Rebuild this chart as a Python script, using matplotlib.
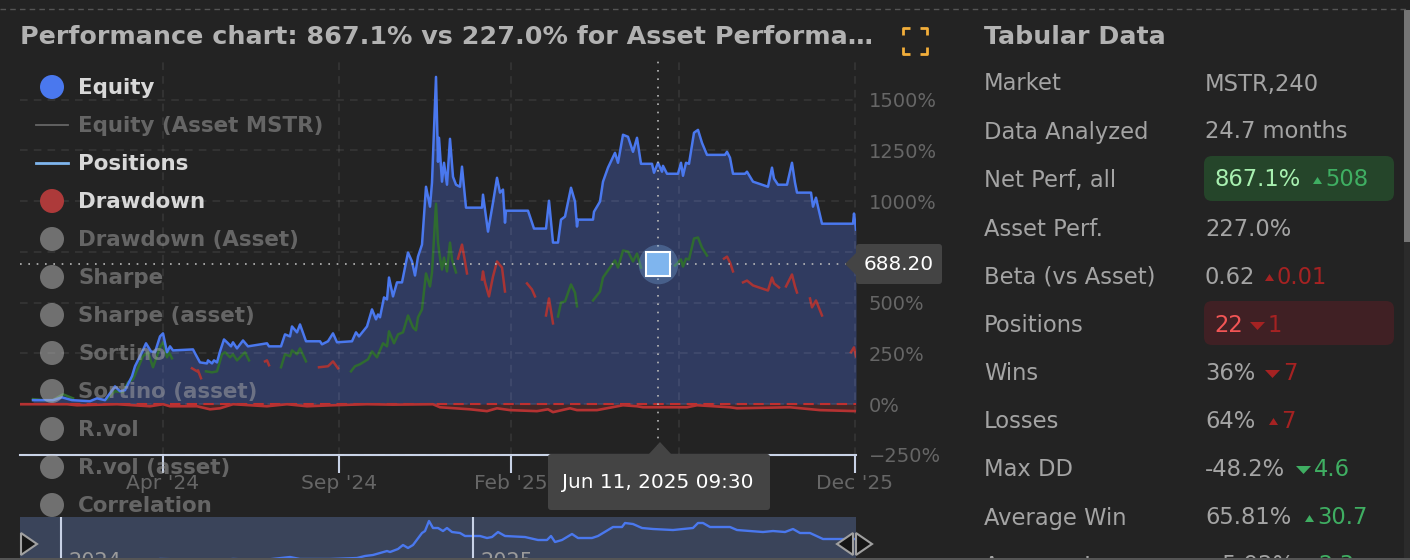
import matplotlib
matplotlib.use("Agg")
import matplotlib.pyplot as plt
from matplotlib.patches import FancyBboxPatch, Polygon, Rectangle, Circle

# ---------- data (x = session index along the date axis, y = percent) ----------
equity_x = [13, 33, 42, 52, 70, 77, 85, 95, 100, 105, 112, 115, 122, 126, 131, 135, 140, 143, 147, 150, 153, 173, 175, 180, 187, 188, 192, 194, 197, 200, 204, 207, 211, 213, 217, 223, 228, 247, 249, 261, 265, 270, 272, 277, 280, 286, 300, 302, 308, 313, 317, 332, 336, 339, 347, 352, 356, 358, 360, 364, 367, 369, 373, 377, 382, 388, 392, 395, 398, 402, 406, 410, 412, 416, 418, 419, 422, 424, 427, 430, 433, 436, 440, 442, 446, 462, 463, 468, 473, 477, 480, 483, 485, 486, 508, 514, 526, 529, 533, 538, 541, 545, 551, 555, 557, 558, 573, 574, 580, 583, 588, 595, 598, 603, 608, 613, 617, 621, 632, 634, 638, 642, 643, 647, 658, 661, 663, 666, 669, 674, 678, 682, 687, 705, 707, 710, 713, 725, 727, 733, 736, 748, 752, 754, 758, 767, 772, 775, 777, 791, 793, 796, 798, 802, 833, 834, 836]
equity_y = [20, 20, 34, 20, 15, 29, 20, 88, 64, 69, 138, 187, 256, 300, 260, 256, 334, 349, 256, 285, 265, 270, 251, 206, 201, 216, 201, 216, 206, 260, 319, 305, 285, 305, 275, 314, 285, 300, 285, 285, 344, 334, 383, 354, 393, 310, 310, 295, 310, 349, 305, 310, 354, 334, 383, 467, 418, 442, 428, 526, 516, 624, 531, 600, 600, 747, 703, 634, 727, 786, 1071, 973, 1091, 1612, 1194, 1312, 1096, 1189, 1081, 1307, 1120, 1081, 1071, 1170, 968, 968, 1032, 850, 993, 1115, 1042, 1057, 894, 953, 953, 865, 865, 1002, 796, 796, 909, 924, 1066, 998, 875, 909, 909, 948, 998, 1096, 1165, 1238, 1189, 1327, 1317, 1243, 1312, 1184, 1184, 1140, 1189, 1145, 1174, 1135, 1135, 1189, 1125, 1189, 1184, 1337, 1351, 1287, 1228, 1228, 1243, 1214, 1135, 1135, 1145, 1096, 1091, 1071, 1165, 1111, 1081, 1081, 1189, 1091, 1042, 1042, 973, 1017, 973, 889, 889, 939, 860]

win_segments = [
    ([13, 23, 33, 43, 53], [25, 20, 20, 49, 29]),
    ([87, 95, 103, 108, 113, 123, 128, 133, 140, 143, 147, 149, 152], [25, 64, 59, 108, 123, 236, 256, 182, 280, 305, 231, 256, 226]),
    ([186, 192, 197, 202, 205, 210, 213, 217, 225, 229], [162, 157, 162, 246, 256, 231, 246, 216, 256, 216]),
    ([261, 265, 270, 272, 277, 280, 286], [182, 246, 236, 265, 246, 275, 211]),
    ([331, 335, 340, 348, 352, 357, 363, 367, 369, 374, 378, 383, 388, 393, 396, 398, 402, 406, 410, 412, 416, 418, 420, 422, 424, 427, 430, 432, 436],
     [162, 187, 197, 221, 260, 231, 300, 285, 359, 300, 344, 354, 437, 378, 364, 428, 467, 644, 580, 649, 988, 796, 722, 663, 722, 654, 796, 713, 649]),
    ([538, 541, 545, 551, 555, 557], [432, 501, 506, 590, 550, 482]),
    ([573, 580, 583, 590, 595, 598, 603, 608, 613, 617, 621], [511, 555, 624, 673, 708, 673, 757, 752, 703, 742, 673]),
    ([655, 661, 663, 666, 669, 674, 678, 682, 687], [683, 713, 678, 717, 713, 816, 821, 771, 732]),
]
loss_segments = [
    ([172, 177, 178, 181], [177, 162, 167, 128]),
    ([245, 247, 249], [211, 216, 192]),
    ([299, 308, 313, 318], [182, 187, 211, 177]),
    ([438, 442, 445, 447], [717, 786, 703, 644]),
    ([462, 463, 465, 469, 473, 477, 482, 485], [614, 654, 600, 531, 629, 703, 673, 555]),
    ([507, 512, 515], [595, 565, 531]),
    ([526, 529, 533], [437, 521, 398]),
    ([704, 707, 710, 713], [717, 727, 698, 654]),
    ([723, 727, 733, 748, 752, 754, 759], [600, 609, 585, 560, 624, 595, 575]),
    ([766, 772, 775, 777], [580, 639, 580, 550]),
    ([790, 792, 796, 802], [521, 477, 511, 437]),
    ([831, 834, 836], [256, 280, 236]),
]

drawdown_x = [0, 47, 57, 97, 130, 143, 150, 177, 190, 200, 213, 247, 267, 287, 313, 347, 373, 413, 420, 450, 467, 477, 490, 517, 528, 533, 550, 557, 577, 603, 617, 623, 667, 677, 710, 717, 770, 800, 836]
drawdown_y = [0, 0, -5, 0, -10, 0, -10, -10, -25, -20, 0, -10, 0, -10, -5, 0, -2, 0, -15, -25, -34, -20, -29, -34, -25, -39, -20, -29, -29, -5, -10, -15, -15, -5, -15, -20, -15, -29, -34]

nav_x = [133, 140, 200, 213, 243, 270, 280, 310, 337, 345, 353, 360, 367, 370, 378, 383, 388, 393, 402, 405, 409, 413, 418, 423, 427, 432, 440, 445, 460, 467, 472, 478, 485, 505, 518, 527, 531, 535, 542, 552, 558, 572, 578, 593, 602, 605, 613, 622, 633, 653, 673, 678, 683, 690, 710, 717, 743, 753, 765, 773, 780, 790, 803, 836]
nav_y = [0, 41, 0, 41, 0, 123, 41, 41, 82, 165, 206, 288, 370, 329, 453, 617, 494, 617, 1111, 1193, 1605, 1317, 1317, 1193, 1317, 1152, 1111, 988, 988, 905, 946, 1152, 988, 946, 823, 823, 988, 741, 823, 1070, 905, 905, 988, 1358, 1358, 1523, 1481, 1317, 1276, 1234, 1317, 1523, 1523, 1358, 1358, 1234, 1152, 1193, 1152, 1276, 1111, 1111, 864, 864]

y_ticks = [-250, 0, 250, 500, 750, 1000, 1250, 1500]
y_labels = ["\u2212250%", "0%", "250%", "500%", "750%", "1000%", "1250%", "1500%"]
x_ticks = [142.5, 319, 491, 659, 835]
x_labels = ["Apr '24", "Sep '24", "Feb '25", "Jul '25", "Dec '25"]
nav_year_ticks = [41, 453]
nav_year_labels = ["2024", "2025"]
cursor_x, cursor_value = 638, 688.20
cursor_label = "Jun 11, 2025 09:30"

legend_items = ["Equity", "Equity (Asset MSTR)", "Positions", "Drawdown", "Drawdown (Asset)", "Sharpe",
                "Sharpe (asset)", "Sortino", "Sortino (asset)", "R.vol", "R.vol (asset)", "Correlation"]

table_labels = ["Market", "Data Analyzed", "Net Perf, all", "Asset Perf.", "Beta (vs Asset)", "Positions",
                "Wins", "Losses", "Max DD", "Average Win", "Average Loss"]
table_values = ["MSTR,240", "24.7 months", "867.1%", "227.0%", "0.62", "22", "36%", "64%", "-48.2%", "65.81%", "-5.92%"]
table_deltas = ["", "", "508", "", "0.01", "1", "7", "7", "4.6", "30.7", "2.3"]

# ---------- colours ----------
BG = "#232323"
BLUE = "#4a78ee"
FILL = "#303b60"
GREEN = "#2f6b30"
RED = "#a83434"
MUTED = "#666666"

W, H = 1410, 560
fig = plt.figure(figsize=(W / 100, H / 100), dpi=100, facecolor=BG)
plt.rcParams["font.family"] = "DejaVu Sans"


def box(l, t, r, b):
    return [l / W, 1 - b / H, (r - l) / W, (b - t) / H]


# ---------- main chart ----------
ax = fig.add_axes(box(20, 58, 856, 455), facecolor=BG, zorder=1)
ax.set_xlim(0, 836)
ax.set_ylim(-245.7, 1705)
ax.fill_between(equity_x, equity_y, 0, color=FILL, lw=0, zorder=1)
ax.fill_between(drawdown_x, drawdown_y, 0, color="#5a2a2a", alpha=0.6, lw=0, zorder=1.5)
ax.plot(equity_x, equity_y, color=BLUE, lw=1.8, zorder=3, solid_joinstyle="round")
for sx, sy in win_segments:
    ax.plot(sx, sy, color=GREEN, lw=1.8, zorder=2.5)
for sx, sy in loss_segments:
    ax.plot(sx, sy, color=RED, lw=1.8, zorder=2.5)
ax.axhline(0, color="#c03030", lw=1.5, ls=(0, (5, 3)), zorder=3)
ax.plot(drawdown_x, drawdown_y, color="#b53232", lw=1.9, zorder=3.2)

ax.set_yticks(y_ticks, y_labels)
ax.set_xticks(x_ticks, x_labels)
ax.yaxis.tick_right()
ax.tick_params(axis="y", length=0, pad=9, labelsize=14, labelcolor=MUTED)
ax.tick_params(axis="x", length=13, width=1.5, color="#c8d2e6", pad=1, labelsize=14.6, labelcolor=MUTED)
ax.grid(True, color="#ffffff", alpha=0.09, lw=1.1, ls=(0, (5, 4)))
ax.set_axisbelow(False)
for name, spine in ax.spines.items():
    spine.set_visible(name == "bottom")
ax.spines["bottom"].set_color("#c8d2e6")
ax.spines["bottom"].set_linewidth(1.5)

# crosshair at the hovered point
dots = (0, (1, 4))
ax.axvline(cursor_x, color="#b8b8b8", lw=1.2, ls=dots, zorder=4)
ax.axhline(cursor_value, color="#b8b8b8", lw=1.2, ls=dots, zorder=4)
ax.plot([cursor_x], [cursor_value], "o", ms=28.5, color="#7fb5ee", alpha=0.3, mew=0, zorder=5)
ax.plot([cursor_x], [cursor_value], "s", ms=17.5, mfc="#7fb5ee", mec="white", mew=1.5, zorder=6)

# ---------- navigator ----------
nav = fig.add_axes(box(20, 517, 856, 560), facecolor="#3a445a", zorder=1)
nav.set_xlim(0, 836)
nav.set_ylim(0, 1770)
nav.plot(nav_x, nav_y, color=BLUE, lw=1.7)
for tick, label in zip(nav_year_ticks, nav_year_labels):
    nav.axvline(tick, color="#c8d2e6", lw=1.5)
    nav.text(tick + 7, 330, label, fontsize=15, color="#9a9a9a", va="top", ha="left")
nav.set_xticks([])
nav.set_yticks([])
for spine in nav.spines.values():
    spine.set_visible(False)

# ---------- overlay in figure pixels ----------
ov = fig.add_axes([0, 0, 1, 1], zorder=3)
ov.set_xlim(0, W)
ov.set_ylim(H, 0)
ov.axis("off")
ov.patch.set_alpha(0)

# top rule, scrollbar, bottom band
ov.plot([0, W], [9, 9], color="#555555", lw=1, ls=(0, (4, 3)))
ov.add_patch(Rectangle((1404, 242), 6, 318, color="#2b2b2b", lw=0))
ov.add_patch(Rectangle((1404, 10), 6, 232, color="#757575", lw=0))
ov.add_patch(Rectangle((0, 558), W, 2, color="#555555", lw=0, zorder=6))

# title and full-screen icon
ov.text(20, 37, "Performance chart: 867.1% vs 227.0% for Asset Performa\u2026", fontsize=18.3,
        fontweight="bold", color="#b2b2b2", va="center", ha="left")
for cx, cy, sx, sy in [(903, 28, 1, 1), (927, 28, -1, 1), (903, 54, 1, -1), (927, 54, -1, -1)]:
    ov.plot([cx + 7 * sx, cx, cx], [cy, cy, cy + 7 * sy], color="#f2ae3a", lw=2, solid_capstyle="butt")

# legend
for i, label in enumerate(legend_items):
    y = 87 + 38 * i
    active = i in (0, 2, 3)
    if i == 1:
        ov.plot([36, 68], [y, y], color="#666666", lw=1.3)
    elif i == 2:
        ov.plot([36, 68], [y, y], color="#7fb5ee", lw=2)
    elif i == 0:
        ov.add_patch(Circle((52, y), 12, color=BLUE, lw=0))
    elif i == 3:
        ov.add_patch(Circle((52, y), 12, color="#ad3a3a", lw=0))
    else:
        ov.add_patch(Circle((52, y), 12, color="#bdbdbd", alpha=0.5, lw=0))
    ov.text(78, y + 1, label, fontsize=15.4, fontweight="bold", va="center", ha="left",
            color="#d8d8d8" if active else "#a8a8a8", alpha=1 if active else 0.5)

# hover labels
ov.add_patch(Polygon([(845, 264), (857, 252), (857, 276)], color="#444444", lw=0))
ov.add_patch(FancyBboxPatch((858, 246), 82, 36, boxstyle="round,pad=2,rounding_size=3", color="#444444", lw=0))
ov.text(899, 265, f"{cursor_value:.2f}", fontsize=14.4, color="white", va="center", ha="center")
ov.add_patch(Polygon([(648, 455), (660, 442), (672, 455)], color="#444444", lw=0))
ov.add_patch(FancyBboxPatch((550, 456), 218, 52, boxstyle="round,pad=2,rounding_size=3", color="#444444", lw=0))
ov.text(658, 483, cursor_label, fontsize=14.4, color="white", va="center", ha="center")

# navigator handles
for pts in ([(21, 533), (37, 544), (21, 555)], [(856, 533), (872, 544), (856, 555)], [(853, 533), (837, 544), (853, 555)]):
    ov.add_patch(Polygon(pts, facecolor="#151515", edgecolor="#a0a0a0", lw=1.5))

# table
TEXT = "#a4a4a4"
GOOD = "#3fae62"
BAD = "#a52222"
ov.text(984, 37, "Tabular Data", fontsize=18.2, fontweight="bold", color="#b2b2b2", va="center", ha="left")
ov.add_patch(FancyBboxPatch((1208, 160), 182, 37, boxstyle="round,pad=4,rounding_size=8", color="#25452a", lw=0))
ov.add_patch(FancyBboxPatch((1208, 305), 182, 36, boxstyle="round,pad=4,rounding_size=8", color="#402024", lw=0))

row_y = [84, 132, 180, 229, 277, 325, 373, 421, 469, 518, 566]
value_x = [1205, 1205, 1214, 1205, 1205, 1214, 1205, 1205, 1205, 1205, 1215]
value_colors = {2: "#a8f0b0", 5: "#f25555"}
delta_x = [0, 0, 1325, 0, 1277, 1268, 1283, 1281, 1314, 1317, 1318]
delta_colors = [TEXT, TEXT, GOOD, TEXT, BAD, BAD, BAD, BAD, GOOD, GOOD, GOOD]
delta_up = [None, None, True, None, True, False, False, True, False, True, True]

for i, label in enumerate(table_labels):
    y = row_y[i]
    ov.text(984, y, label, fontsize=16.3, color=TEXT, va="center", ha="left")
    ov.text(value_x[i], y, table_values[i], fontsize=16.3, color=value_colors.get(i, TEXT), va="center", ha="left")
    if table_deltas[i]:
        ov.text(delta_x[i], y, table_deltas[i], fontsize=16.3, color=delta_colors[i], va="center", ha="left")
        right = delta_x[i] - 3
        if delta_up[i]:
            ov.add_patch(Polygon([(right - 9, y + 4), (right - 4.5, y - 3), (right, y + 4)], color=delta_colors[i], lw=0))
        else:
            ov.add_patch(Polygon([(right - 15, y - 3), (right - 7.5, y + 5), (right, y - 3)], color=delta_colors[i], lw=0))

fig.savefig("out.png", dpi=100, facecolor=BG)
